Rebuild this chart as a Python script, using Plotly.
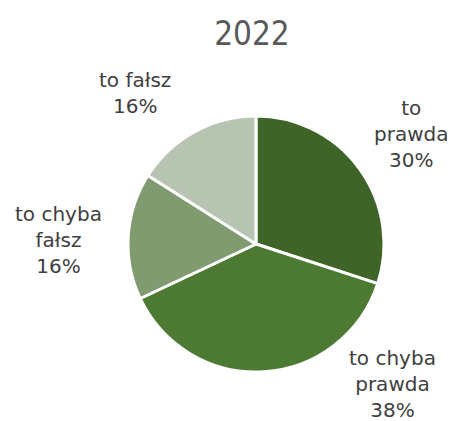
import plotly.graph_objects as go

categories = ["to prawda", "to chyba prawda", "to chyba fałsz", "to fałsz"]
display_labels = ["to<br>prawda", "to chyba<br>prawda", "to chyba<br>fałsz", "to fałsz"]
values = [30, 38, 16, 16]
colors = ["#3f6428", "#4c7a32", "#7f9b6f", "#b7c4b2"]

W, H = 457, 421
# label anchor positions (pixels from top-left), layout only
label_px = [(411, 134), (392, 384), (58, 240), (135, 93)]

total = sum(values)
annotations = []
for lab, v, (px, py) in zip(display_labels, values, label_px):
    annotations.append(dict(
        text=f"{lab}<br>{round(v / total * 100)}%",
        x=px / W, y=1 - py / H, xref="paper", yref="paper",
        xanchor="center", yanchor="middle", showarrow=False, align="center",
        font=dict(family="DejaVu Sans", size=20, color="#404040"),
    ))

cx, cy, r = 256, 244, 128
fig = go.Figure(go.Pie(
    labels=categories,
    values=values,
    textinfo="none",
    sort=False,
    direction="clockwise",
    rotation=0,
    marker=dict(colors=colors, line=dict(color="white", width=3)),
    showlegend=False,
    hoverinfo="label+percent",
    domain=dict(x=[(cx - r) / W, (cx + r) / W], y=[(H - cy - r) / H, (H - cy + r) / H]),
))

fig.update_layout(
    width=W, height=H,
    margin=dict(l=0, r=0, t=0, b=0),
    paper_bgcolor="white",
    annotations=annotations,
    title=dict(text="2022", x=252 / W, xanchor="center", y=1 - 33 / H, yanchor="middle",
               font=dict(family="DejaVu Sans Condensed", size=33, color="#595959")),
)

fig.write_html("out.html", config={"displayModeBar": False},
               post_script="document.body.style.margin='0';document.body.style.padding='0';")
